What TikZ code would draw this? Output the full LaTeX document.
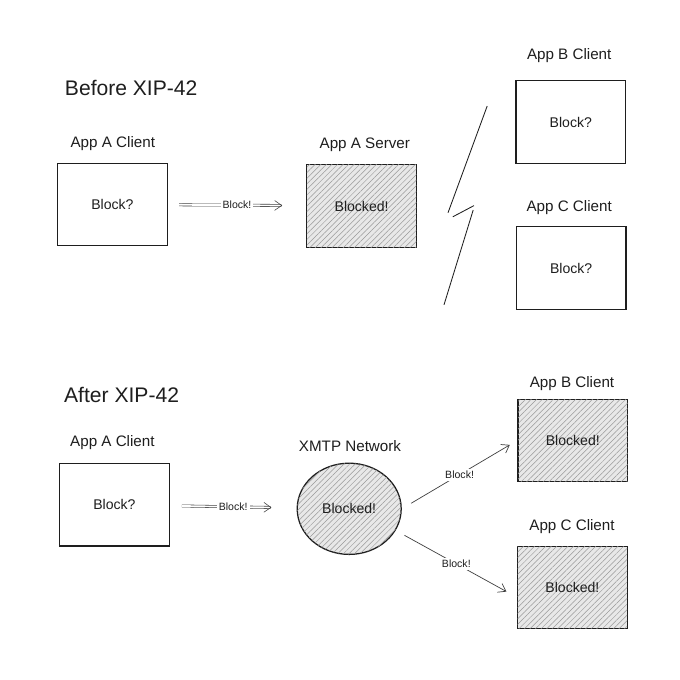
\documentclass[tikz,border=0pt]{standalone}
\usepackage{fontspec}
\setmainfont{Liberation Sans}
\usepackage{tikz}
\usepackage{xcolor}
\usetikzlibrary{positioning,shapes,shapes.geometric,arrows.meta}
\usetikzlibrary{patterns.meta}
\definecolor{ink}{HTML}{1E1E1E}
\definecolor{shade}{HTML}{E8E8E8}

\begin{document}
\begin{tikzpicture}[
    box/.style={draw=ink, shape=rectangle, line width=0.9pt,
      minimum width=2.74cm, minimum height=2.06cm,
      font=\fontsize{10}{12}\selectfont, text=ink},
    hatched/.style={fill=shade,
      postaction={pattern={Lines[angle=45,distance=2.8pt,line width=0.35pt]},
        pattern color=black!40}},
    lbl/.style={font=\fontsize{10.8}{13}\selectfont, text=ink},
    title/.style={font=\fontsize{15}{18}\selectfont, text=ink, anchor=west},
    msg/.style={font=\fontsize{7.5}{9}\selectfont, text=ink, fill=white,
      inner sep=1.5pt, pos=0.5},
    link/.style={draw=ink!85, line width=0.5pt,
      -{Straight Barb[length=5pt,width=7pt]}},
    twin/.style={double=white, double distance=1.2pt, line width=0.4pt}]
\fill[white] (0,0) rectangle (17,17);
\useasboundingbox (0,0) rectangle (17,17);

% before
\draw node (t1) at (1.5,14.8) [title]{Before XIP-42};
\draw node (la1) at (2.82,13.42) [lbl]{App A Client};
\draw node (a1) at (2.81,11.89) [box]{Block?};
\draw node (ls1) at (9.12,13.38) [lbl]{App A Server};
\draw node (s1) at (9.04,11.85) [box, hatched]{Blocked!};
\draw node (lb1) at (14.23,15.62) [lbl]{App B Client};
\draw node (b1) at (14.27,13.95) [box]{Block?};
\draw node (lc1) at (14.23,11.82) [lbl]{App C Client};
\draw node (c1) at (14.28,10.3) [box]{Block?};

\draw [link, twin, shorten <=0.28cm, shorten >=0.6cm]
  (a1) -- node[msg]{Block!} (s1);

\draw [ink, line width=0.6pt]
  (12.18,14.35) -- (11.2,11.68)
  (11.32,11.58) -- (11.85,11.86)
  (11.83,11.75) -- (11.1,9.38);

% after
\draw node (t2) at (1.48,7.13) [title]{After XIP-42};
\draw node (la2) at (2.81,5.93) [lbl]{App A Client};
\draw node (a2) at (2.86,4.38) [box]{Block?};
\draw node (ln2) at (8.75,5.85) [lbl]{XMTP Network};
\draw node (n2) at (8.73,4.28) [draw=ink, shape=ellipse, line width=0.9pt,
  minimum width=2.6cm, minimum height=2.28cm, inner sep=0pt,
  font=\fontsize{10}{12}\selectfont, text=ink, hatched]{Blocked!};
\draw node (lb2) at (14.3,7.42) [lbl]{App B Client};
\draw node (b2) at (14.32,5.99) [box, hatched]{Blocked!};
\draw node (lc2) at (14.3,3.83) [lbl]{App C Client};
\draw node (c2) at (14.31,2.31) [box, hatched]{Blocked!};

\draw [link, twin, shorten <=0.3cm, shorten >=0.63cm]
  (a2) -- node[msg]{Block!} (n2);
\draw [link, shorten <=0.27cm, shorten >=0.22cm]
  (n2.east) -- node[msg]{Block!} (b2.west);
\draw [link, shorten <=0.25cm, shorten >=0.3cm]
  (n2.-25) -- node[msg]{Block!} (c2.190);
\end{tikzpicture}
\end{document}
